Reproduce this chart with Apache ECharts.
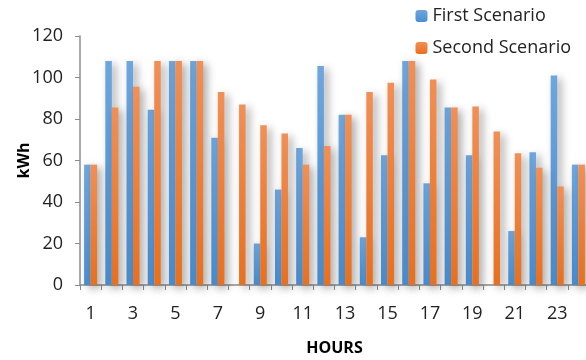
<!DOCTYPE html>
<html><head><meta charset="utf-8">
<script src="https://cdn.jsdelivr.net/npm/echarts@6/dist/echarts.min.js"></script>
<style>html,body{margin:0;padding:0;background:#fff}#c{width:586px;height:360px}</style>
</head><body><div id="c"></div>
<script>
const hours = ['1','2','3','4','5','6','7','8','9','10','11','12','13','14','15','16','17','18','19','20','21','22','23','24'];
const firstScenario  = [58,108,108,84.5,108,108,71,0,20,46,66,105.5,82,23,62.5,108,49,85.5,62.5,0,26,64,101,58];
const secondScenario = [58,85.5,95.5,108,108,108,93,87,77,73,58,67,82,93,97.5,108,99,85.5,86,74,63.5,56.5,47.5,58];
const yTicks = [0,20,40,60,80,100,120];

const FONT = 'Open Sans';
function grad(top, bottom){
  return new echarts.graphic.LinearGradient(0,0,0,1,[{offset:0,color:top},{offset:1,color:bottom}]);
}
const shadow = {shadowBlur:9, shadowColor:'rgba(0,0,0,0.34)', shadowOffsetX:4, shadowOffsetY:3};
const chart = echarts.init(document.getElementById('c'));
chart.setOption({
  animation:false,
  textStyle:{fontFamily:FONT},
  legend:{
    orient:'vertical', right:10, top:2, itemWidth:12, itemHeight:12, itemGap:14,
    textStyle:{fontSize:18, color:'#222', fontFamily:FONT},
    data:['First Scenario','Second Scenario']
  },
  grid:{left:80, top:36, bottom:75, width:509, outerBoundsMode:'none', containLabel:false},
  xAxis:{
    type:'category', data:hours,
    name:'HOURS', nameLocation:'middle', nameGap:55, nameMoveOverlap:false,
    nameTextStyle:{fontSize:16, fontWeight:'bold', color:'#000', fontFamily:FONT},
    axisLine:{lineStyle:{color:'#8c8c8c', width:1.5}},
    axisTick:{show:true, interval:0, length:5, lineStyle:{color:'#8c8c8c'}},
    axisLabel:{interval:1, fontSize:18, color:'#222', margin:20, fontFamily:FONT}
  },
  yAxis:{
    type:'value', min:yTicks[0], max:yTicks[yTicks.length-1], interval:20,
    name:'kWh', nameLocation:'middle', nameGap:48, nameRotate:90, nameMoveOverlap:false,
    nameTextStyle:{fontSize:16, fontWeight:'bold', color:'#000', fontFamily:FONT},
    axisLine:{show:true, lineStyle:{color:'#8c8c8c', width:1.5}},
    axisTick:{show:true, length:5, lineStyle:{color:'#8c8c8c'}},
    axisLabel:{fontSize:18, color:'#222', margin:17, fontFamily:FONT},
    splitLine:{show:false}
  },
  series:[
    {name:'First Scenario', type:'bar', data:firstScenario, barWidth:6.5, barGap:'0%',
     itemStyle:Object.assign({color:grad('#6ea6dd','#4a8ed0')}, shadow)},
    {name:'Second Scenario', type:'bar', data:secondScenario, barWidth:6.5,
     itemStyle:Object.assign({color:grad('#f18f55','#e8701e')}, shadow)}
  ]
});
</script></body></html>
